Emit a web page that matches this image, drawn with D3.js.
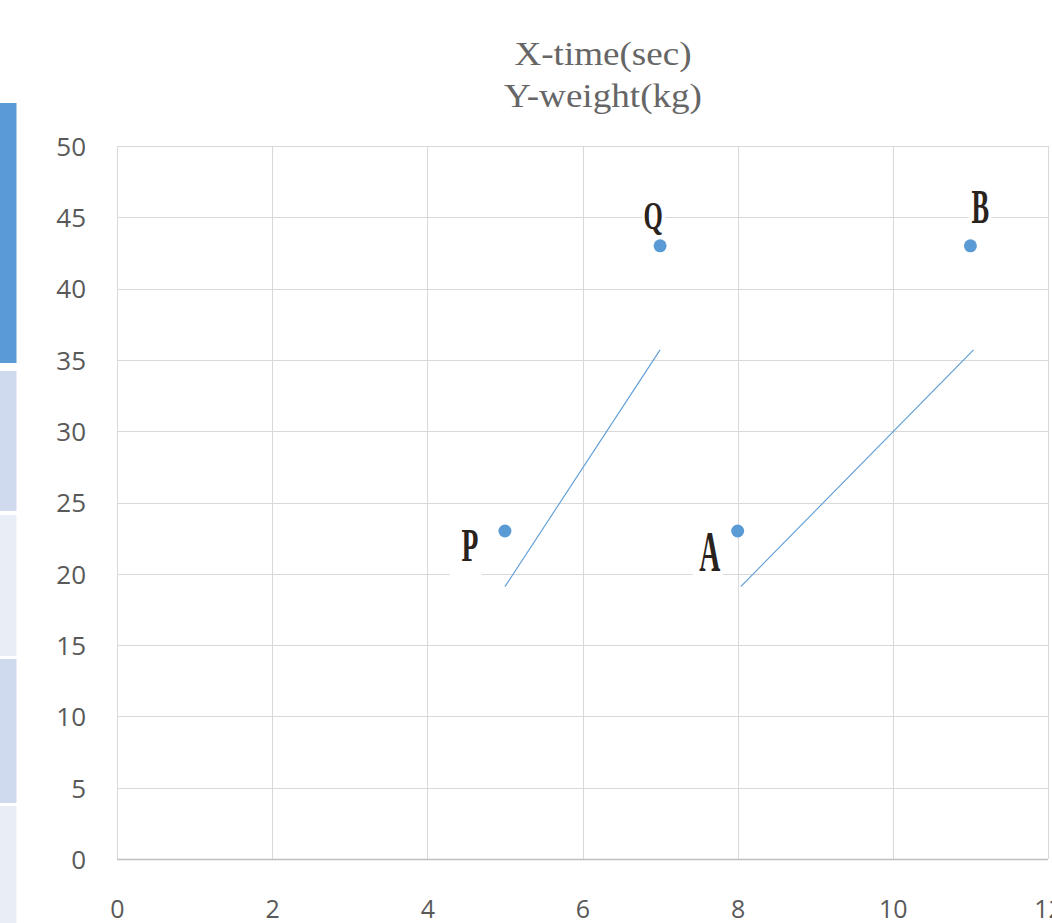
<!DOCTYPE html>
<html><head><meta charset="utf-8">
<script src="https://cdn.jsdelivr.net/npm/d3@7"></script>
<style>html,body{margin:0;padding:0;background:#fff;overflow:hidden}</style>
</head><body>
<svg id="c" width="1052" height="923"></svg>
<script>
// ---- data ----
const titleLines = ["X-time(sec)", "Y-weight(kg)"];
const xTicks = [0, 2, 4, 6, 8, 10, 12];
const yTicks = [0, 5, 10, 15, 20, 25, 30, 35, 40, 45, 50];
const pointNames = ["P", "Q", "A", "B"];
const pointX = [5, 7, 8, 11];
const pointY = [23, 43, 23, 43];
const line1X = [5.0, 7.0];
const line1Y = [19.1, 35.7];
const line2X = [8.04, 11.04];
const line2Y = [19.1, 35.7];

// ---- styles / layout ----
const labelStyle = {
  P: {dx: -35, dy: 30, size: 46, sx: 0.6, box: [-20, -52, 32, 66]},
  Q: {dx: -7, dy: -17, size: 40, sx: 0.62, box: [-11, -40, 23, 46]},
  A: {dx: -28, dy: 40, size: 56, sx: 0.52, box: [-17, -44, 30, 48]},
  B: {dx: 10, dy: -23, size: 48, sx: 0.55, box: [-12, -36, 23, 44]}
};
const stripBlocks = [
  {y0: 103, y1: 363, fill: "#5b9bd5"},
  {y0: 371, y1: 511, fill: "#cfdaee"},
  {y0: 515, y1: 656, fill: "#e9edf6"},
  {y0: 659, y1: 803, fill: "#cfdaee"},
  {y0: 806, y1: 923, fill: "#e9edf6"}
];

const svg = d3.select("#c");
const x = d3.scaleLinear().domain([0, 12]).range([117, 1048]);
const y = d3.scaleLinear().domain([0, 50]).range([859, 146]);

// left strip
svg.selectAll("rect.strip").data(stripBlocks).join("rect")
  .attr("x", 0).attr("width", 16.5)
  .attr("y", d => d.y0).attr("height", d => d.y1 - d.y0)
  .attr("fill", d => d.fill);

// grid
const g = svg.append("g");
g.selectAll("line.h").data(yTicks.filter(t => t > 0)).join("line")
  .attr("x1", x(0)).attr("x2", x(12))
  .attr("y1", d => Math.round(y(d)) + 0.5).attr("y2", d => Math.round(y(d)) + 0.5)
  .attr("stroke", "#d9d9d9").attr("stroke-width", 1);
g.selectAll("line.v").data(xTicks).join("line")
  .attr("y1", y(0)).attr("y2", y(50))
  .attr("x1", d => Math.round(x(d)) + 0.5).attr("x2", d => Math.round(x(d)) + 0.5)
  .attr("stroke", "#d9d9d9").attr("stroke-width", 1);
g.append("line").attr("x1", x(0)).attr("x2", x(12))
  .attr("y1", Math.round(y(0)) + 0.5).attr("y2", Math.round(y(0)) + 0.5)
  .attr("stroke", "#bfbfbf").attr("stroke-width", 1.3);

// axes labels
const yAxis = d3.axisLeft(y).tickValues(yTicks).tickSize(0).tickPadding(31);
const ya = svg.append("g").attr("transform", `translate(${x(0)},0)`).call(yAxis);
ya.select(".domain").remove();
ya.selectAll("text").attr("font-family", "'Open Sans', sans-serif")
  .attr("font-size", 26).attr("fill", "#595959").attr("dy", "0.36em");

const xAxis = d3.axisBottom(x).tickValues(xTicks).tickSize(0).tickPadding(0);
const xa = svg.append("g").attr("transform", `translate(0,${y(0)})`).call(xAxis);
xa.select(".domain").remove();
xa.selectAll("text").attr("font-family", "'Open Sans', sans-serif")
  .attr("font-size", 25).attr("fill", "#595959").attr("dy", null).attr("y", 59);

// title
svg.selectAll("text.title").data(titleLines).join("text")
  .attr("class", "title")
  .attr("x", 603).attr("y", (d, i) => 65 + i * 42)
  .attr("text-anchor", "middle")
  .attr("font-family", "'Liberation Serif', serif")
  .attr("font-size", 33).attr("fill", "#666666")
  .attr("textLength", (d, i) => i === 0 ? 177 : 198)
  .attr("lengthAdjust", "spacingAndGlyphs")
  .text(d => d);

// lines
const lines = [[line1X, line1Y], [line2X, line2Y]];
const lineGen = d3.line().x(d => x(d[0])).y(d => y(d[1]));
svg.selectAll("path.seg").data(lines).join("path")
  .attr("d", d => lineGen(d[0].map((v, i) => [v, d[1][i]])))
  .attr("fill", "none").attr("stroke", "#5b9bd5").attr("stroke-width", 1.1);

// points
const pts = pointNames.map((n, i) => ({name: n, x: pointX[i], y: pointY[i]}));
svg.selectAll("circle.pt").data(pts).join("circle")
  .attr("cx", d => x(d.x)).attr("cy", d => y(d.y)).attr("r", 6.5)
  .attr("fill", "#5b9bd5");

// labels
const lg = svg.selectAll("g.lbl").data(pts).join("g")
  .attr("transform", d => {
    const s = labelStyle[d.name];
    return `translate(${x(d.x) + s.dx},${y(d.y) + s.dy})`;
  });
lg.append("rect")
  .attr("x", d => labelStyle[d.name].box[0]).attr("y", d => labelStyle[d.name].box[1])
  .attr("width", d => labelStyle[d.name].box[2]).attr("height", d => labelStyle[d.name].box[3])
  .attr("fill", "#fff");
lg.append("text")
  .attr("transform", d => `scale(${labelStyle[d.name].sx},1)`)
  .attr("text-anchor", "middle")
  .attr("font-family", "'Liberation Serif', serif").attr("font-weight", "bold")
  .attr("font-size", d => labelStyle[d.name].size)
  .attr("fill", "#2a221c")
  .text(d => d.name);
</script>
</body></html>
